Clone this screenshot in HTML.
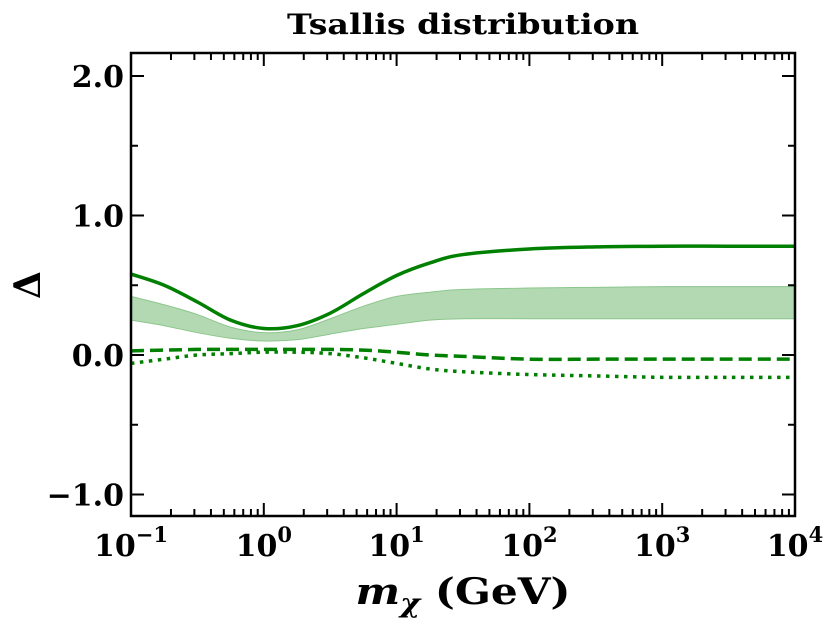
<!DOCTYPE html>
<html><head><meta charset="utf-8"><style>
body{margin:0;background:#fff;}
svg{display:block;font-family:"DejaVu Serif","Liberation Serif",serif;font-weight:bold;}
</style></head><body>
<svg id="chart" width="830" height="621" viewBox="0 0 830 621" xmlns="http://www.w3.org/2000/svg">
<text x="463" y="34" text-anchor="middle" font-size="28" textLength="352" lengthAdjust="spacingAndGlyphs">Tsallis distribution</text>
<g id="plot"></g>
<text x="463" y="604" text-anchor="middle" font-size="36" textLength="215" lengthAdjust="spacingAndGlyphs"><tspan font-style="italic">m</tspan><tspan font-style="italic" font-size="26" dy="8">χ</tspan><tspan dy="-8"> (GeV)</tspan></text>
<text x="40" y="285" text-anchor="middle" font-size="36" transform="rotate(-90 40 285)">Δ</text>
</svg>
<script>
const logM = [-1,-0.75,-0.5,-0.25,0,0.25,0.5,0.75,1,1.25,1.5,2,2.5,3,3.5,4];
const solid = [0.58,0.50,0.38,0.25,0.19,0.21,0.30,0.44,0.57,0.66,0.72,0.76,0.775,0.78,0.78,0.78];
const bandUpper = [0.42,0.36,0.29,0.20,0.16,0.18,0.26,0.35,0.42,0.45,0.47,0.48,0.485,0.49,0.49,0.49];
const bandLower = [0.25,0.21,0.16,0.12,0.10,0.11,0.15,0.19,0.22,0.25,0.26,0.26,0.26,0.26,0.26,0.26];
const dashed = [0.03,0.035,0.04,0.04,0.04,0.04,0.04,0.035,0.02,0.0,-0.01,-0.03,-0.03,-0.03,-0.03,-0.03];
const dotted = [-0.06,-0.03,0.0,0.01,0.02,0.02,0.01,-0.02,-0.06,-0.10,-0.12,-0.14,-0.15,-0.16,-0.16,-0.16];
const xTickExps = [-1,0,1,2,3,4];
const yTicks = [-1.0,0.0,1.0,2.0];
const yTickLabels = ["\u22121.0","0.0","1.0","2.0"];

const L=131,R=795,T=53,B=516;
const X=v=>L+(v+1)*(R-L)/5;
const Y=v=>355-v*139.5;
const NS="http://www.w3.org/2000/svg";
const g=document.getElementById('plot');
function mk(t,a){const e=document.createElementNS(NS,t);for(const k in a)e.setAttribute(k,a[k]);return e;}
function pts(arr){return logM.map((m,i)=>[X(m),Y(arr[i])]);}
function smooth(p){let d=`M${p[0][0]},${p[0][1]}`;for(let i=0;i<p.length-1;i++){const p0=p[Math.max(i-1,0)],p1=p[i],p2=p[i+1],p3=p[Math.min(i+2,p.length-1)];
d+=` C${p1[0]+(p2[0]-p0[0])/6},${p1[1]+(p2[1]-p0[1])/6} ${p2[0]-(p3[0]-p1[0])/6},${p2[1]-(p3[1]-p1[1])/6} ${p2[0]},${p2[1]}`;}return d;}
const up=smooth(pts(bandUpper));
const lo=pts(bandLower).reverse();
const band=mk('path',{d:up+' L'+smooth(lo).slice(1)+' Z',fill:'#b3d9b3',stroke:'#8cc68c','stroke-width':1});


g.appendChild(band);
const s1=mk('path',{d:smooth(pts(solid)),fill:'none',stroke:'#008000','stroke-width':3.5});


g.appendChild(s1);
const s2=mk('path',{d:smooth(pts(dashed)),fill:'none',stroke:'#008000','stroke-width':3.5,'stroke-dasharray':'13 6'});


g.appendChild(s2);
const s3=mk('path',{d:smooth(pts(dotted)),fill:'none',stroke:'#008000','stroke-width':3.5,'stroke-dasharray':'3.5 5.5'});


g.appendChild(s3);
const fr=mk('rect',{x:L,y:T,width:R-L,height:B-T,fill:'none',stroke:'#000','stroke-width':2.5});


g.appendChild(fr);
let tk='';
xTickExps.forEach(e=>{const x=X(e);tk+=`M${x},${B}v-13M${x},${T}v13`;
 if(e<4)for(let k=2;k<10;k++){const xm=X(e+Math.log10(k));tk+=`M${xm},${B}v-7M${xm},${T}v7`;}});
yTicks.forEach(v=>{const y=Y(v);tk+=`M${L},${y}h13M${R},${y}h-13`;});
[-0.5,0.5,1.5].forEach(v=>{const y=Y(v);tk+=`M${L},${y}h7M${R},${y}h-7`;});
const ticks=mk('path',{d:tk,stroke:'#000','stroke-width':2,fill:'none'});


g.appendChild(ticks);
xTickExps.forEach(e=>{const t=mk('text',{x:X(e),y:556,'text-anchor':'middle','font-size':30});
 t.innerHTML=`10<tspan font-size="21" dy="-14">${e<0?'\u2212'+(-e):e}</tspan>`;
 
 
 g.appendChild(t);});
yTicks.forEach((v,i)=>{const t=mk('text',{x:124,y:Y(v)+11,'text-anchor':'end','font-size':30});
 t.textContent=yTickLabels[i];
 
 
 g.appendChild(t);});
</script>
</body></html>
